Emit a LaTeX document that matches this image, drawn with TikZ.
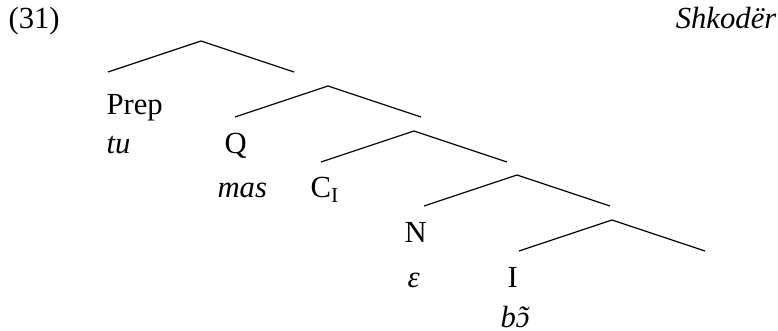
\documentclass[tikz,border=0pt]{standalone}
\usepackage{fontspec}
\setmainfont{Liberation Serif}
\begin{document}
\begin{tikzpicture}[x=0.75pt, y=-0.75pt, line width=0.9pt,
  lbl/.style={anchor=base west, inner sep=0pt, font=\rmfamily\fontsize{23}{27}\selectfont}]
  \useasboundingbox (0,0) rectangle (778,331);
  % branching points of the tree
  \foreach \name/\x/\y in {a/201/41, b/328/86, c/414/131, d/517/175, e/612/220} {
    \coordinate (\name) at (\x,\y);
    \coordinate (\name l) at (\x-93,\y+31);
    \coordinate (\name r) at (\x+93,\y+31);
    \draw (\name l) -- (\name) -- (\name r);
  }

  \node[lbl] (ex) at (8,29) {(31)};
  \node[lbl, anchor=base east] (dial) at (777,29) {\textit{Shkodër}};

  \node[lbl] (prep) at (106,115) {Prep};
  \node[lbl] (tu) at (106,154) {\textit{tu}};
  \node[lbl] (q) at (224,154) {Q};
  \node[lbl] (mas) at (217,198) {\textit{mas}};
  \node[lbl] (ci) at (310,198) {C\textsubscript{I}};
  \node[lbl] (n) at (404,243) {N};
  \node[lbl] (eps) at (407,288) {\textit{ε}};
  \node[lbl] (i) at (507,288) {I};
  \node[lbl] (bo) at (500,327) {\textit{b\ooalign{ɔ\cr\hidewidth˜\hidewidth\cr}}};
\end{tikzpicture}
\end{document}
